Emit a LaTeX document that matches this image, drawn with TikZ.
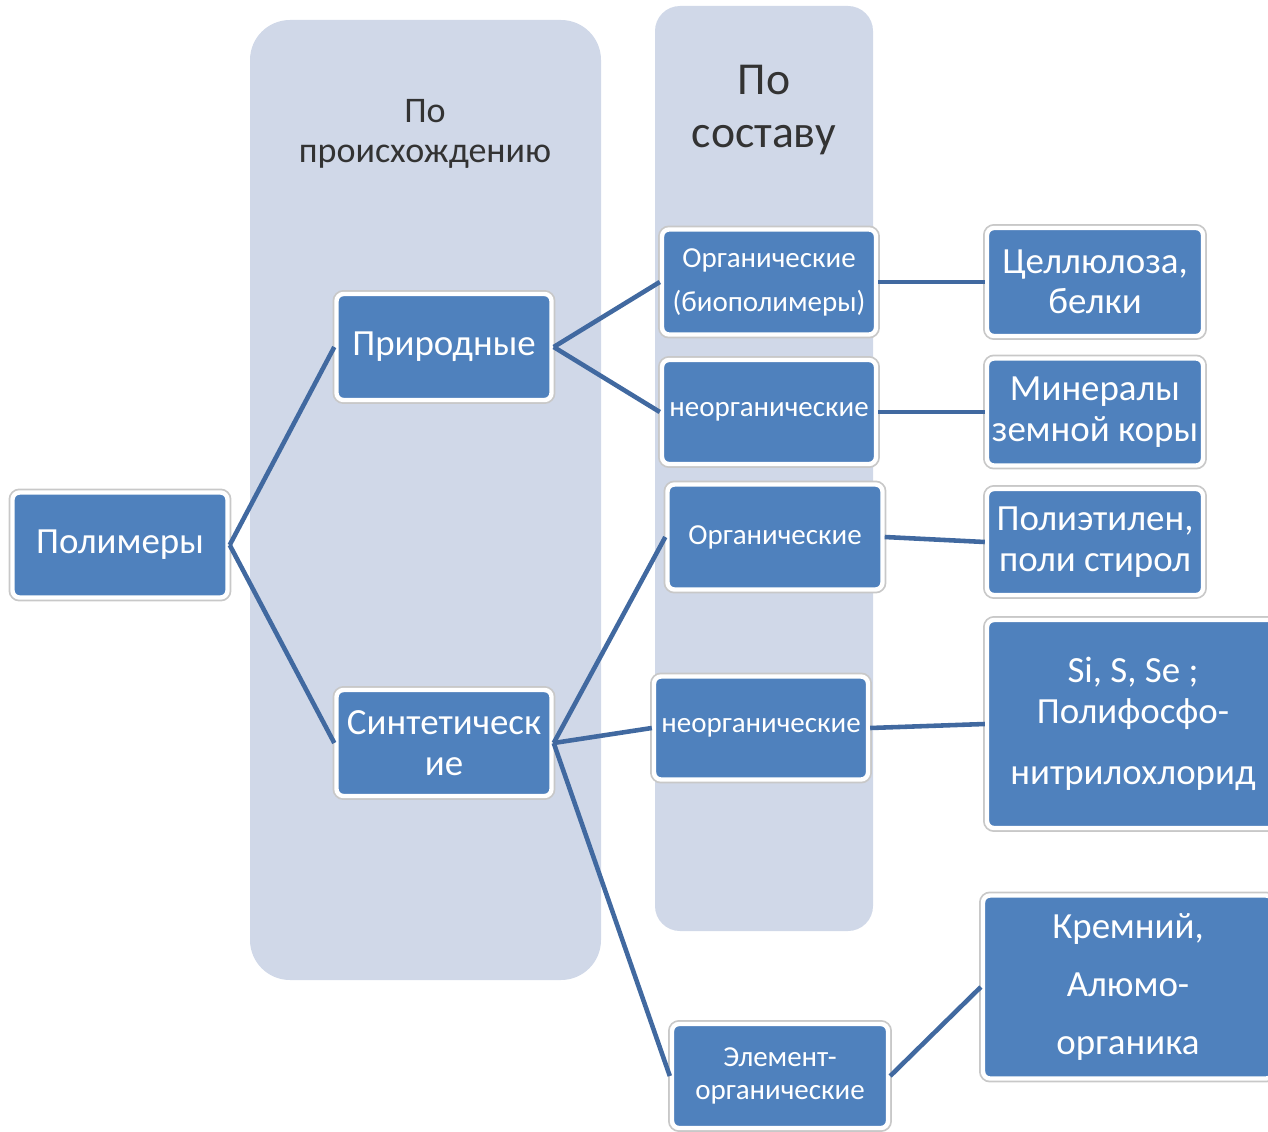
\documentclass[tikz,border=0pt]{standalone}
\usepackage{fontspec}
\setmainfont{Carlito}
\usepackage{tikz}
\usetikzlibrary{positioning}
\definecolor{pmblue}{RGB}{79,129,189}
\definecolor{pmline}{RGB}{65,105,160}
\definecolor{pmpanel}{RGB}{208,216,232}
\definecolor{pmedge}{RGB}{200,200,200}
\newcommand{\bigtxt}{\fontsize{21}{23}\selectfont}
\newcommand{\midtxt}{\fontsize{16.5}{19}\selectfont}

\begin{document}
\begin{tikzpicture}[
  x=0.02cm,y=-0.02cm,
  panel/.style={fill=pmpanel,rounded corners=40*0.02cm},
  head/.style={text=black!80,align=center},
  box/.style={preaction={draw=pmedge,line width=4.5pt},draw=white,line width=2.5pt,
     fill=pmblue,rounded corners=4pt,text=white,align=center,inner sep=2pt},
  link/.style={draw=pmline,line width=2.6pt}
]
\useasboundingbox (0,0) rectangle (1268,1132);
% columns
\fill[panel] (250,20) rectangle (601,980);
\fill[panel,rounded corners=25*0.02cm] (655,6) rectangle (873,931);
\node[head,font=\fontsize{20.5}{23}\selectfont] (origin) at (425,134) {По\\происхождению};
\node[head,font=\fontsize{26}{30}\selectfont] (comp) at (764,110) {По\\составу};
% boxes
\node[box,minimum width=215*0.02cm,minimum height=105*0.02cm,font=\bigtxt] (poly) at (120,545) {Полимеры};
\node[box,minimum width=215*0.02cm,minimum height=106*0.02cm,font=\bigtxt] (nat) at (444,347) {Природные};
\node[box,minimum width=215*0.02cm,minimum height=106*0.02cm,font=\bigtxt] (syn) at (444,743) {Синтетическ\\ие};
\node[box,minimum width=214*0.02cm,minimum height=105*0.02cm,font=\fontsize{16.5}{25}\selectfont] (org1) at (769,282) {Органические\\(биополимеры)};
\node[box,minimum width=214*0.02cm,minimum height=104*0.02cm,font=\midtxt] (inorg1) at (769,412) {неорганические};
\node[box,minimum width=215*0.02cm,minimum height=105*0.02cm,font=\midtxt] (org2) at (775,537) {Органические};
\node[box,minimum width=214*0.02cm,minimum height=103*0.02cm,font=\midtxt] (inorg2) at (761,728) {неорганические};
\node[box,minimum width=216*0.02cm,minimum height=104*0.02cm,font=\midtxt] (elorg) at (780,1076) {Элемент-\\органические};
\node[box,minimum width=216*0.02cm,minimum height=108*0.02cm,font=\bigtxt] (cell) at (1095,282) {Целлюлоза,\\белки};
\node[box,minimum width=216*0.02cm,minimum height=107*0.02cm,font=\bigtxt] (mine) at (1095,412) {Минералы\\земной коры};
\node[box,minimum width=216*0.02cm,minimum height=106*0.02cm,font=\bigtxt] (pe) at (1095,542) {Полиэтилен,\\поли стирол};
\node[box,minimum width=292*0.02cm,minimum height=208*0.02cm,font=\bigtxt] (si) at (1133,724) {Si, S, Se ;\\Полифосфо-\\[12pt]нитрилохлорид};
\node[box,minimum width=290*0.02cm,minimum height=183*0.02cm,font=\bigtxt] (krem) at (1128,987) {Кремний,\\[10pt]Алюмо-\\[10pt]органика};
% links
\draw[link] (poly.east) -- (nat.west);
\draw[link] (poly.east) -- (syn.west);
\draw[link] (nat.east) -- (org1.west);
\draw[link] (nat.east) -- (inorg1.west);
\draw[link] (syn.east) -- (org2.west);
\draw[link] (syn.east) -- (inorg2.west);
\draw[link] (syn.east) -- (elorg.west);
\draw[link] (org1.east) -- (cell.west);
\draw[link] (inorg1.east) -- (mine.west);
\draw[link] (org2.east) -- (pe.west);
\draw[link] (inorg2.east) -- (si.west);
\draw[link] (elorg.east) -- (krem.west);
\end{tikzpicture}
\end{document}
